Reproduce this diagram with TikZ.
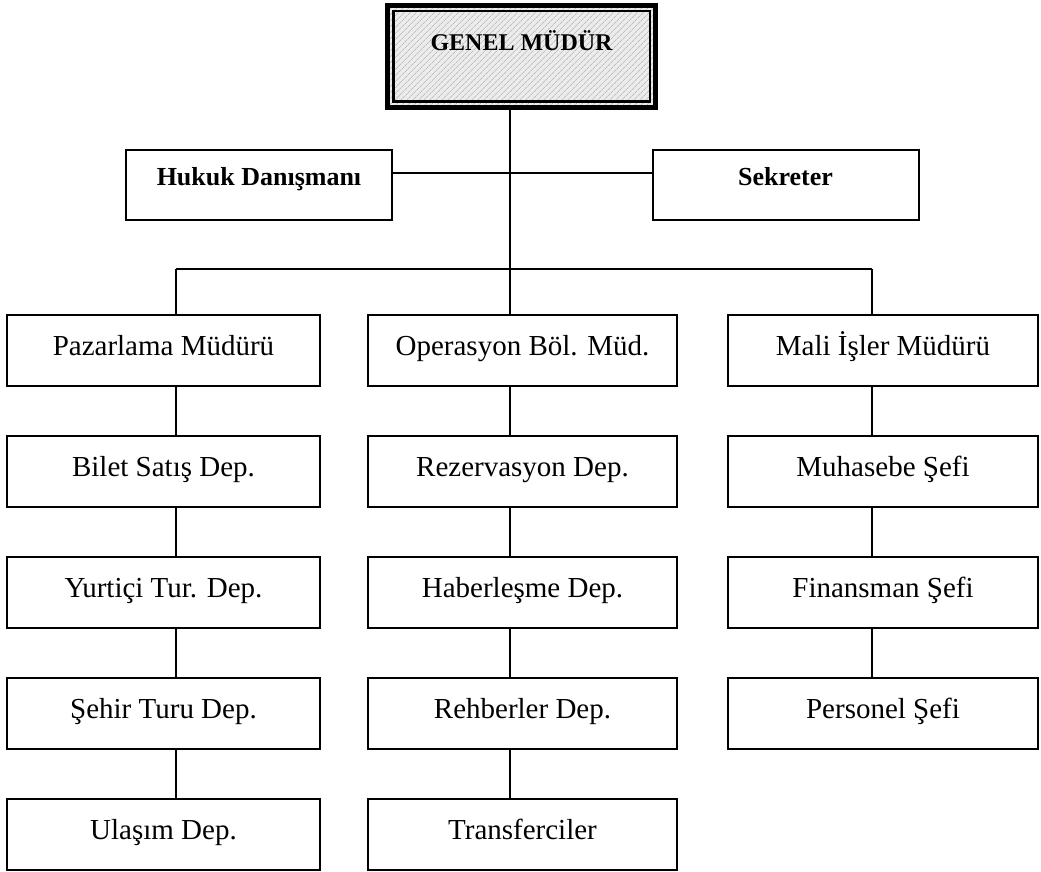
\documentclass[tikz,border=0pt]{standalone}
\usepackage{fontspec}
\setmainfont{Liberation Serif}
\usepackage{tikz}
\usetikzlibrary{patterns.meta}

\begin{document}
\begin{tikzpicture}[x=1pt,y=1pt,
    birim/.style={draw,line width=2pt,inner sep=0pt,text height=40pt,text depth=31pt,
      font=\fontsize{29}{34}\selectfont},
    solkol/.style={birim,minimum width=313pt},
    ortakol/.style={birim,minimum width=309pt},
    sagkol/.style={birim,minimum width=310pt},
    kurmay/.style={draw,line width=2pt,inner sep=0pt,minimum width=266pt,
      text height=35pt,text depth=35pt,font=\fontsize{26}{30}\selectfont\bfseries},
    bag/.style={line width=1.6pt}]
    \useasboundingbox (0,0) rectangle (1041,-871);
    \node[draw,line width=5pt,inner sep=0pt,minimum width=268pt,
      text height=45pt,text depth=57pt,font=\fontsize{24}{28}\selectfont\bfseries,
      preaction={fill=gray!15},
      pattern={Lines[angle=45,distance=4pt,line width=0.5pt]},pattern color=gray!70]
      (gm) at (521.5,-56) {GENEL MÜDÜR};
    \draw[line width=2.5pt] ([shift={(6,-6)}]gm.north west)
      rectangle ([shift={(-6,6)}]gm.south east);
    \node[kurmay] (huk) at (259,-185) {Hukuk Danışmanı};
    \node[kurmay] (sek) at (785.5,-185) {Sekreter};
    \node[solkol] (paz) at (163.5,-350.5) {Pazarlama Müdürü};
    \node[solkol] (bil) at (163.5,-471.5) {Bilet Satış Dep.};
    \node[solkol] (yur) at (163.5,-592.5) {Yurtiçi Tur. Dep.};
    \node[solkol] (seh) at (163.5,-713.5) {Şehir Turu Dep.};
    \node[solkol] (ula) at (163.5,-834.5) {Ulaşım Dep.};
    \node[ortakol] (opr) at (522.5,-350.5) {Operasyon Böl. Müd.};
    \node[ortakol] (rez) at (522.5,-471.5) {Rezervasyon Dep.};
    \node[ortakol] (hab) at (522.5,-592.5) {Haberleşme Dep.};
    \node[ortakol] (reh) at (522.5,-713.5) {Rehberler Dep.};
    \node[ortakol] (tra) at (522.5,-834.5) {Transferciler};
    \node[sagkol] (mal) at (883,-350.5) {Mali İşler Müdürü};
    \node[sagkol] (muh) at (883,-471.5) {Muhasebe Şefi};
    \node[sagkol] (fin) at (883,-592.5) {Finansman Şefi};
    \node[sagkol] (per) at (883,-713.5) {Personel Şefi};
    \coordinate (kolA) at (176,-269);
    \coordinate (kolB) at (510,-269);
    \coordinate (kolC) at (872,-269);
    \draw[bag] (gm.south -| kolB) -- (opr.north -| kolB);
    \draw[bag] ([yshift=12pt]huk.east) -- ([yshift=12pt]sek.west);
    \draw[bag] (kolA) -- (kolC);
    \draw[bag] (kolA) -- (paz.north -| kolA);
    \draw[bag] (kolC) -- (mal.north -| kolC);
    \foreach \a/\b in {paz/bil,bil/yur,yur/seh,seh/ula}
      \draw[bag] (\a.south -| kolA) -- (\b.north -| kolA);
    \foreach \a/\b in {opr/rez,rez/hab,hab/reh,reh/tra}
      \draw[bag] (\a.south -| kolB) -- (\b.north -| kolB);
    \foreach \a/\b in {mal/muh,muh/fin,fin/per}
      \draw[bag] (\a.south -| kolC) -- (\b.north -| kolC);
  \end{tikzpicture}
\end{document}
